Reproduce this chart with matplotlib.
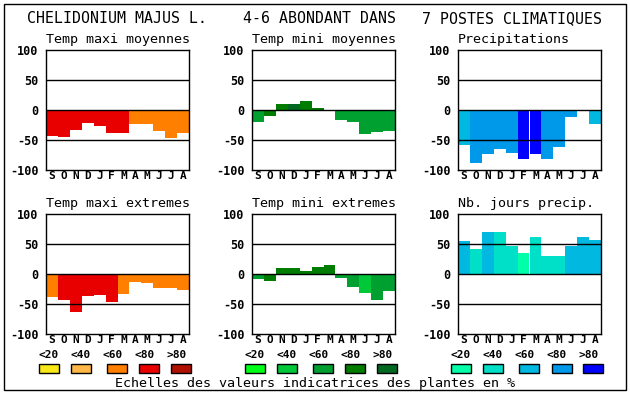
import matplotlib
matplotlib.use("Agg")
import matplotlib.pyplot as plt
from matplotlib.patches import Rectangle

months = ['S', 'O', 'N', 'D', 'J', 'F', 'M', 'A', 'M', 'J', 'J', 'A']
yticks = [-100, -50, 0, 50, 100]
ytick_labels = ['-100', '-50', '0', '50', '100']
legend_labels = ['<20', '<40', '<60', '<80', '>80']

red_palette = ['#f8e818', '#ffb848', '#ff8000', '#e80000', '#b01000']
green_palette = ['#00ff18', '#00c838', '#00a030', '#007c00', '#006820']
blue_palette = ['#00ffa8', '#00e0c8', '#00b8e0', '#0098e8', '#0000ff']

titles = ['Temp maxi moyennes', 'Temp mini moyennes', 'Precipitations',
          'Temp maxi extremes', 'Temp mini extremes', 'Nb. jours precip.']

tmax_moy = [-43, -45, -33, -21, -26, -38, -38, -23, -23, -35, -47, -38]
tmax_moy_cls = [3, 3, 3, 3, 3, 3, 3, 2, 2, 2, 2, 2]
tmin_moy = [-20, -10, 10, 10, 15, 4, -2, -16, -20, -40, -37, -35]
tmin_moy_cls = [2, 3, 3, 4, 3, 3, 3, 2, 2, 2, 2, 2]
precip = [-58, -88, -73, -65, -71, -81, -73, -81, -61, -11, 0, -24]
precip_cls = [2, 3, 3, 3, 3, 4, 4, 3, 3, 3, 3, 2]
tmax_ext = [-38, -43, -64, -37, -35, -46, -34, -13, -15, -24, -24, -26]
tmax_ext_cls = [2, 3, 3, 3, 3, 3, 2, 2, 2, 2, 2, 2]
tmin_ext = [-8, -11, 10, 10, 5, 12, 15, -6, -21, -31, -43, -28]
tmin_ext_cls = [2, 3, 3, 3, 3, 3, 3, 2, 2, 1, 2, 2]
nbjours = [55, 42, 70, 70, 47, 35, 62, 30, 30, 47, 62, 57]
nbjours_cls = [2, 1, 2, 1, 1, 0, 1, 1, 1, 2, 2, 2]

panels = [
    (tmax_moy, tmax_moy_cls, red_palette),
    (tmin_moy, tmin_moy_cls, green_palette),
    (precip, precip_cls, blue_palette),
    (tmax_ext, tmax_ext_cls, red_palette),
    (tmin_ext, tmin_ext_cls, green_palette),
    (nbjours, nbjours_cls, blue_palette),
]

W, H = 630, 394
fig = plt.figure(figsize=(W / 100, H / 100), dpi=100)
fig.patch.set_facecolor('white')
MONO = 'DejaVu Sans Mono'

# overlay in pixel coords
ov = fig.add_axes([0, 0, 1, 1], zorder=5)
ov.set_xlim(0, W)
ov.set_ylim(H, 0)
ov.axis('off')
ov.patch.set_visible(False)
ov.add_patch(Rectangle((4, 4), 622, 386, fill=False, lw=1.0, ec='black'))

ov.text(27, 23, 'CHELIDONIUM MAJUS L.', family=MONO, fontsize=10.7, ha='left', va='baseline')
ov.text(243, 23, '4-6 ABONDANT DANS', family=MONO, fontsize=10.7, ha='left', va='baseline')
ov.text(422, 23, '7 POSTES CLIMATIQUES', family=MONO, fontsize=10.7, ha='left', va='baseline')

col_x = [(46, 189), (252, 395), (458, 601)]
row_y = [(50, 170), (214, 334)]

for i, (vals, cls, pal) in enumerate(panels):
    r, c = divmod(i, 3)
    x0, x1 = col_x[c]
    y0, y1 = row_y[r]
    ax = fig.add_axes([x0 / W, 1 - y1 / H, (x1 - x0) / W, (y1 - y0) / H])
    xs = list(range(12))
    ax.bar(xs, vals, width=1.0, color=[pal[k] for k in cls], linewidth=0, zorder=2)
    for g in [50, 0, -50]:
        ax.axhline(g, color='black', lw=1.0, zorder=3)
    ax.set_xlim(-0.5, 11.5)
    ax.set_ylim(-100, 100)
    ax.set_xticks(xs)
    ax.set_xticklabels(months, family=MONO, fontweight='bold', fontsize=8)
    ax.set_yticks(yticks)
    ax.set_yticklabels(ytick_labels, family=MONO, fontweight='bold', fontsize=8.5)
    ax.tick_params(length=0)
    ax.tick_params(axis='x', pad=0.8)
    ax.tick_params(axis='y', pad=5.5)
    for s in ax.spines.values():
        s.set_linewidth(1.0)
    ov.text(x0, y0 - 7, titles[i], family=MONO, fontsize=9.6, ha='left', va='baseline')

# legend
box_x = [[39, 71, 107, 139, 171], [245, 277, 313, 345, 377], [451, 483, 519, 552, 583]]
label_x = [[49, 81, 113, 145, 177], [255, 287, 319, 351, 383], [461, 493, 525, 557, 589]]
palettes = [red_palette, green_palette, blue_palette]
for g in range(3):
    for k in range(5):
        ov.add_patch(Rectangle((box_x[g][k], 364), 20, 9, facecolor=palettes[g][k],
                               edgecolor='black', lw=1.0))
        ov.text(label_x[g][k], 358, legend_labels[k], family=MONO, fontweight='bold',
                fontsize=8, ha='center', va='baseline')

ov.text(315, 387, 'Echelles des valeurs indicatrices des plantes en %', family=MONO,
        fontsize=9.6, ha='center', va='baseline')

fig.savefig('out.png', dpi=100, facecolor='white')
